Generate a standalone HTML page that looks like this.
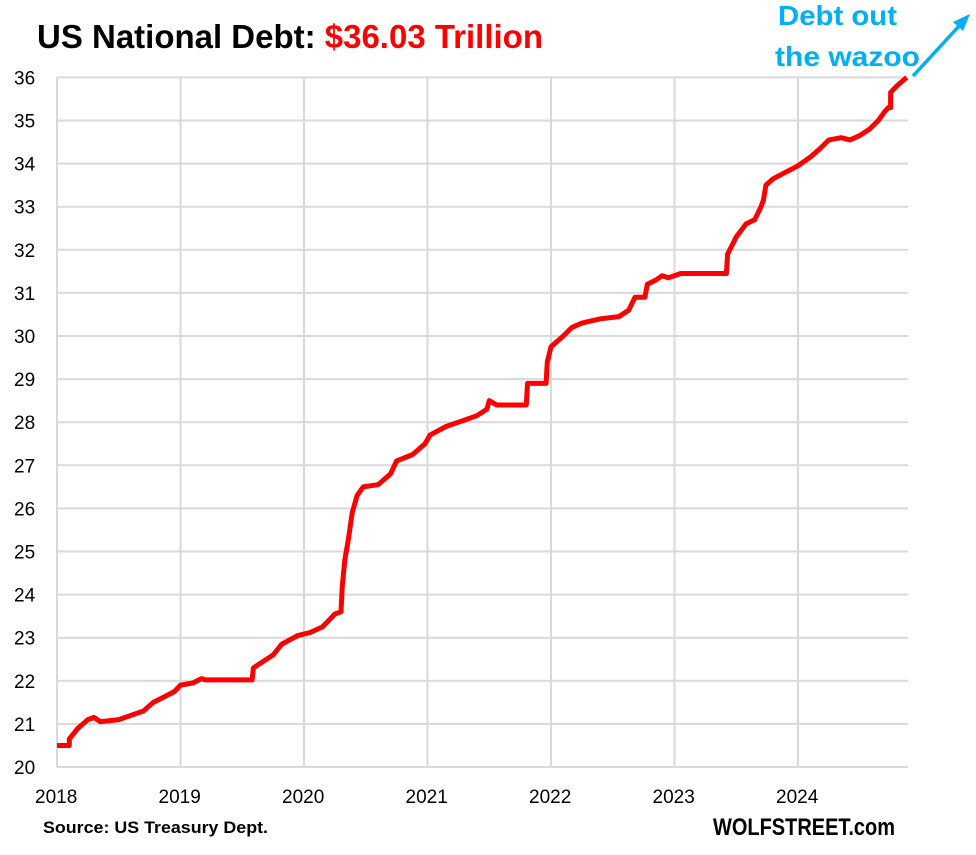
<!DOCTYPE html>
<html><head><meta charset="utf-8"><style>
body{margin:0;background:#fff;}
svg text{font-family:"Liberation Sans Narrow","Liberation Sans",sans-serif;}
</style></head><body>
<svg id="s" width="976" height="850" xmlns="http://www.w3.org/2000/svg">
<rect width="976" height="850" fill="#fff"/>
<g id="grid" stroke="#d9d9d9" stroke-width="2"></g>
<g id="labels" font-size="19" fill="#000"></g>
<text x="37" y="48" font-size="33" font-weight="bold" fill="#000" textLength="506" lengthAdjust="spacingAndGlyphs">US National Debt: <tspan fill="#ff0000">$36.03 Trillion</tspan></text>
<text x="778" y="25" font-size="28" font-weight="bold" fill="#00b0f0" textLength="119" lengthAdjust="spacingAndGlyphs">Debt out</text>
<text x="775" y="66" font-size="28" font-weight="bold" fill="#00b0f0" textLength="145" lengthAdjust="spacingAndGlyphs">the wazoo</text>
<line x1="913" y1="76" x2="960" y2="25" stroke="#00b0f0" stroke-width="3.5"/>
<polygon points="970,14 953,22 963,31" fill="#00b0f0"/>
<text x="43" y="833" font-size="17" font-weight="bold" fill="#000" textLength="225" lengthAdjust="spacingAndGlyphs">Source: US Treasury Dept.</text>
<text x="713" y="835" font-size="24" font-weight="bold" fill="#000" textLength="182" lengthAdjust="spacingAndGlyphs">WOLFSTREET.com</text>
<polyline id="ln" fill="none" stroke="#ff0000" stroke-width="5" stroke-linejoin="round"/>
</svg>
<script>
var X=function(t){return 57+(t-2018)*123.5},Y=function(v){return 767-(v-20)*43.1};
var g=document.getElementById('grid'),L=document.getElementById('labels'),ns='http://www.w3.org/2000/svg';
for(var v=20;v<=36;v++){var l=document.createElementNS(ns,'line');l.setAttribute('x1',57);l.setAttribute('x2',908);l.setAttribute('y1',Y(v));l.setAttribute('y2',Y(v));g.appendChild(l);
var t=document.createElementNS(ns,'text');t.setAttribute('x',14);t.setAttribute('y',Y(v)+7);t.textContent=v;L.appendChild(t);}
for(var y=2018;y<=2024;y++){var l=document.createElementNS(ns,'line');l.setAttribute('x1',X(y));l.setAttribute('x2',X(y));l.setAttribute('y1',Y(36));l.setAttribute('y2',Y(20));g.appendChild(l);
var t=document.createElementNS(ns,'text');t.setAttribute('x',X(y)-22);t.setAttribute('y',803);t.textContent=y;L.appendChild(t);}
var d=[[2018,20.5],[2018.1,20.5],[2018.1,20.65],[2018.17,20.9],[2018.25,21.1],[2018.3,21.15],[2018.35,21.05],[2018.5,21.1],[2018.7,21.3],[2018.78,21.5],[2018.85,21.6],[2018.95,21.75],[2019.0,21.9],[2019.1,21.95],[2019.17,22.05],[2019.2,22.02],[2019.58,22.02],[2019.59,22.3],[2019.75,22.6],[2019.82,22.85],[2019.95,23.05],[2020.05,23.12],[2020.15,23.25],[2020.2,23.4],[2020.25,23.55],[2020.3,23.6],[2020.31,24.2],[2020.33,24.8],[2020.36,25.3],[2020.39,25.9],[2020.43,26.3],[2020.48,26.5],[2020.6,26.55],[2020.7,26.8],[2020.75,27.1],[2020.88,27.25],[2020.98,27.5],[2021.02,27.7],[2021.15,27.9],[2021.25,28.0],[2021.4,28.15],[2021.48,28.3],[2021.5,28.5],[2021.56,28.4],[2021.8,28.4],[2021.81,28.9],[2021.96,28.9],[2021.97,29.4],[2022.0,29.75],[2022.1,30.0],[2022.17,30.2],[2022.25,30.3],[2022.4,30.4],[2022.55,30.45],[2022.63,30.6],[2022.68,30.9],[2022.76,30.9],[2022.78,31.2],[2022.85,31.3],[2022.9,31.4],[2022.95,31.35],[2023.05,31.45],[2023.42,31.45],[2023.43,31.9],[2023.5,32.3],[2023.58,32.6],[2023.65,32.7],[2023.7,33.0],[2023.72,33.15],[2023.74,33.5],[2023.8,33.65],[2023.9,33.8],[2024.0,33.95],[2024.1,34.15],[2024.18,34.35],[2024.25,34.55],[2024.35,34.6],[2024.42,34.55],[2024.5,34.65],[2024.58,34.8],[2024.65,35.0],[2024.7,35.2],[2024.73,35.3],[2024.75,35.3],[2024.75,35.65],[2024.8,35.8],[2024.88,36.0]];
document.getElementById('ln').setAttribute('points',d.map(function(p){return X(p[0]).toFixed(1)+','+Y(p[1]).toFixed(1)}).join(' '));
</script>
</body></html>
